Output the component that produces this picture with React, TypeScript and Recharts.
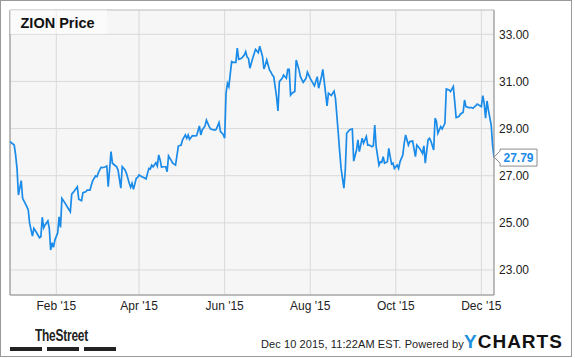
import React from 'react'
import { LineChart, Line, XAxis, YAxis, CartesianGrid, ReferenceLine, ReferenceDot } from 'recharts'

// days counted from Jan 1 2015 (0 = Jan 1)
const days = [
  -2, 1, 2, 3, 4, 6, 7, 10, 11, 12, 14, 15, 17, 19, 20, 21, 22, 23, 25, 26, 27, 28, 29, 30, 32, 33, 34, 35, 37, 39,
  41, 42, 44, 46, 47, 49, 50, 52, 53, 55, 56, 57, 59, 60, 61, 63, 64, 66, 67, 68, 70, 71, 74, 75, 77, 78, 80, 81, 83, 84,
  85, 86, 88, 89, 90, 92, 93, 95, 96, 97, 98, 99, 100, 102, 103, 104, 105, 106, 107, 109, 110, 111, 113, 114, 116, 118, 120, 121, 123, 124,
  125, 126, 128, 129, 131, 133, 134, 135, 137, 138, 140, 141, 144, 145, 147, 148, 150, 151, 152, 153, 154, 156, 157, 159, 160, 161, 163, 165, 166, 167,
  168, 169, 170, 171, 173, 175, 176, 178, 179, 180, 181, 183, 184, 185, 186, 188, 189, 190, 192, 193, 195, 196, 197, 198, 199, 201, 202, 204, 205, 207,
  209, 210, 212, 214, 215, 217, 218, 220, 221, 223, 224, 225, 227, 228, 229, 230, 232, 233, 234, 236, 237, 238, 240, 241, 242, 243, 245, 246, 247, 248,
  249, 250, 252, 253, 254, 256, 257, 258, 259, 261, 262, 263, 264, 265, 267, 268, 269, 270, 271, 272, 274, 275, 276, 278, 279, 280, 282, 283, 285, 287,
  288, 290, 292, 293, 294, 296, 297, 298, 300, 301, 302, 303, 305, 306, 308, 309, 311, 312, 314, 315, 316, 318, 319, 321, 322, 323, 325, 327, 328, 330,
  331, 333, 334, 335, 336, 337, 338, 339, 341, 342, 343,
]

const prices = [
  28.44, 28.3, 27.88, 27.31, 26.18, 26.79, 26.04, 25.69, 25.55, 24.98, 24.44, 24.77, 24.58, 24.37, 24.41, 25.24, 24.79, 24.91, 25.08, 24.77, 23.85, 24.16, 23.96, 24.27, 24.58, 25.26, 24.81, 26.04, 25.86, 25.66,
  25.47, 26.22, 26.36, 26.53, 26.0, 25.94, 26.28, 26.32, 26.39, 26.39, 26.61, 26.79, 26.99, 26.96, 27.13, 27.36, 27.34, 27.38, 27.41, 26.53, 28.02, 27.53, 27.38, 27.24, 26.47, 27.38, 27.24, 27.1, 26.68, 26.51,
  26.68, 26.42, 26.89, 26.93, 27.03, 26.96, 26.93, 26.86, 27.1, 27.31, 27.28, 27.45, 27.38, 27.55, 27.41, 27.88, 27.67, 27.36, 27.38, 27.38, 27.17, 27.84, 27.64, 27.53, 27.45, 28.26, 28.3, 28.52, 28.73, 28.59,
  28.73, 28.54, 28.7, 28.69, 28.7, 29.11, 28.73, 28.94, 29.11, 29.36, 29.08, 28.98, 28.94, 28.97, 29.25, 28.87, 28.75, 28.59, 30.5, 30.92, 30.78, 31.84, 31.81, 31.81, 32.41, 31.94, 31.98, 32.12, 32.26, 32.03,
  31.98, 31.56, 31.77, 31.98, 32.36, 32.22, 32.49, 32.06, 31.53, 31.7, 31.91, 31.49, 31.39, 31.27, 31.2, 30.35, 29.75, 30.99, 31.13, 31.27, 31.13, 31.51, 31.51, 30.42, 30.5, 30.57, 31.91, 31.49, 31.2, 30.96,
  31.13, 31.39, 31.13, 30.92, 30.81, 31.2, 30.71, 31.2, 31.51, 30.47, 29.96, 30.5, 30.4, 30.5, 30.59, 30.28, 28.8, 28.02, 27.31, 26.47, 27.24, 28.8, 28.94, 28.97, 28.98, 27.62, 28.09, 28.52, 28.02, 28.3,
  28.59, 28.38, 28.66, 28.3, 28.3, 28.23, 28.27, 29.15, 28.23, 27.45, 27.59, 27.57, 27.81, 27.53, 27.59, 28.16, 27.81, 27.49, 27.53, 27.31, 27.45, 27.31, 27.59, 27.88, 28.38, 28.73, 28.3, 28.45, 28.47, 27.81,
  28.3, 28.16, 27.95, 28.27, 27.53, 28.52, 28.59, 28.47, 28.09, 29.44, 29.3, 28.8, 29.08, 28.98, 29.22, 30.68, 30.64, 30.57, 30.78, 30.14, 29.47, 29.51, 29.61, 29.69, 30.21, 29.93, 29.89, 29.89, 29.86, 29.97,
  30.04, 29.97, 29.93, 30.4, 30.07, 29.44, 30.17, 29.79, 29.15, 28.3, 27.79,
]

const monthTicks = [31, 90, 151, 212, 273, 334]
const monthLabels = ["Feb '15", "Apr '15", "Jun '15", "Aug '15", "Oct '15", "Dec '15"]
const priceTicks = [23, 25, 27, 29, 31, 33]

const xDomain = [-2, 343]
const yDomain = [21.94, 34.03]

const BLUE = '#1a8be8'
const FONT = '"Liberation Sans", Arial, sans-serif'

const data = days.map((d, i) => ({ day: d, price: prices[i] }))
const lastPrice = prices[prices.length - 1]

const PriceTag = ({ cx, cy }: any) => {
  if (cx == null || cy == null) return null
  const l = cx + 6
  const r = cx + 43
  return (
    <g>
      <polygon
        points={`${cx},${cy} ${l},${cy - 6} ${l},${cy - 8} ${r},${cy - 8} ${r},${cy + 9} ${l},${cy + 9} ${l},${cy + 6}`}
        fill="#fff"
        stroke="#8c8c8c"
        strokeWidth={1}
      />
      <text x={(l + r) / 2} y={cy + 5} textAnchor="middle" fill={BLUE} fontSize={12} fontWeight="bold" fontFamily={FONT}>
        {lastPrice.toFixed(2)}
      </text>
    </g>
  )
}

export default function App() {
  return (
    <div style={{ position: 'relative', width: 575, height: 358, background: '#fff', fontFamily: FONT, overflow: 'hidden' }}>
      <style>{`body{margin:0}`}</style>
      <div style={{ position: 'absolute', left: 0, top: 0, width: 572, height: 357, boxSizing: 'border-box', border: '1px solid #999' }} />

      <LineChart width={575} height={358} data={data} margin={{ top: 10, right: 10, bottom: 33, left: 10 }}>
        <CartesianGrid stroke="#d9d9d9" strokeWidth={1} fill="#f6f6f6" />
        <XAxis
          dataKey="day"
          type="number"
          domain={xDomain}
          ticks={monthTicks}
          allowDataOverflow
          tickFormatter={(v: number) => monthLabels[monthTicks.indexOf(v)] ?? ''}
          tick={{ fill: '#222', fontSize: 12, fontFamily: FONT }}
          tickLine={false}
          tickSize={4}
          tickMargin={2}
          axisLine={{ stroke: '#8c8c8c' }}
          height={30}
        />
        <YAxis
          orientation="right"
          type="number"
          domain={yDomain}
          ticks={priceTicks}
          allowDataOverflow
          tickFormatter={(v: number) => v.toFixed(2)}
          tick={{ fill: '#222', fontSize: 12, fontFamily: FONT, textAnchor: 'start' }}
          tickLine={false}
          tickSize={3}
          tickMargin={2}
          axisLine={{ stroke: '#8c8c8c' }}
          width={71}
        />
        <ReferenceLine x={xDomain[0]} stroke="#8c8c8c" />
        <ReferenceLine y={yDomain[1]} stroke="#c8c8c8" />
        <Line
          type="linear"
          dataKey="price"
          stroke={BLUE}
          strokeWidth={1.7}
          dot={false}
          activeDot={false}
          isAnimationActive={false}
        />
        <ReferenceDot x={days[days.length - 1]} y={lastPrice} shape={<PriceTag />} ifOverflow="visible" />
      </LineChart>

      {/* title box */}
      <div
        style={{
          position: 'absolute', left: 10, top: 10, width: 97, height: 24,
          background: 'rgba(255,255,255,0.55)', fontWeight: 'bold', fontSize: 14.5,
          lineHeight: '24px', paddingLeft: 10.5, boxSizing: 'border-box', paddingTop: 1, color: '#111',
        }}
      >
        ZION Price
      </div>

      {/* footer */}
      <div
        style={{
          position: 'absolute', left: 35, top: 327, fontSize: 17, lineHeight: '17px', fontWeight: 'bold',
          color: '#222', transform: 'scaleX(0.7)', transformOrigin: 'left top', letterSpacing: -0.3,
        }}
      >
        TheStreet
      </div>
      {[10, 47, 84].map(x => (
        <div key={x} style={{ position: 'absolute', left: x, top: 347, width: 32, height: 4, background: '#222' }} />
      ))}
      <div style={{ position: 'absolute', left: 261, top: 339, fontSize: 11, lineHeight: '11px', color: '#222', whiteSpace: 'nowrap', letterSpacing: 0.1 }}>
        Dec 10 2015, 11:22AM EST. Powered by
      </div>
      <div
        style={{
          position: 'absolute', left: 464, top: 332, fontSize: 19, lineHeight: '19px', fontWeight: 'bold',
          letterSpacing: 1, color: '#111', whiteSpace: 'nowrap',
        }}
      >
        <span style={{ color: '#1e90dc' }}>Y</span>CHARTS
      </div>
    </div>
  )
}
